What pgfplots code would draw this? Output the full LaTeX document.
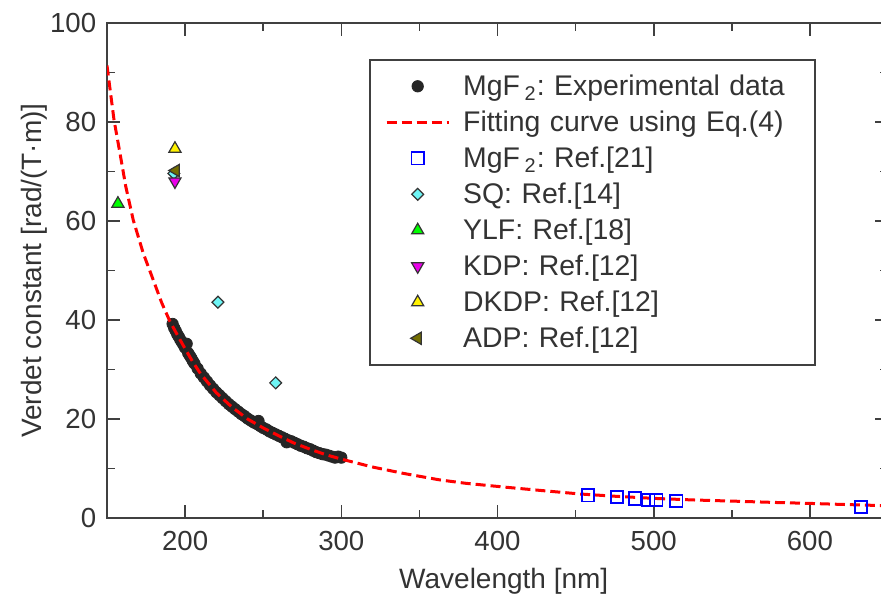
\documentclass[border=0pt]{standalone}
\usepackage{fontspec}
\setmainfont{Liberation Sans}
\usepackage{pgfplots}
\pgfplotsset{compat=1.18}

\definecolor{txt}{HTML}{333333}
\definecolor{axcol}{HTML}{404040}
\definecolor{mk}{HTML}{262626}
\definecolor{sqcyan}{RGB}{110,245,245}
\definecolor{adpol}{RGB}{115,110,0}
\definecolor{kdpmag}{RGB}{235,0,235}

\begin{document}
\begin{tikzpicture}
% reference is cropped on the right, just past 640 nm
\useasboundingbox (-53.5pt,-41.5pt) rectangle (387pt,259pt);
\clip (-53.5pt,-41.5pt) rectangle (387pt,259pt);
\begin{axis}[
    clip marker paths=true,
    scale only axis,
    width=390.5pt, height=247.5pt,
    at={(0pt,0pt)}, anchor=south west,
    xmin=150, xmax=650,
    ymin=0, ymax=100,
    xtick={200,300,...,600},
    ytick={0,20,...,100},
    minor x tick num=1,
    minor y tick num=1,
    tick align=inside,
    major tick length=6.5pt,
    minor tick length=4pt,
    axis line style={axcol, line width=0.8pt},
    every tick/.style={axcol, line width=0.8pt},
    /pgf/number format/assume math mode=true,
    tick label style={font=\fontsize{13.8}{16}\selectfont, text=txt},
    xticklabel style={yshift=-2.9pt},
    yticklabel style={xshift=-1.9pt},
    label style={font=\fontsize{14}{16}\selectfont, text=txt},
    xlabel={Wavelength [nm]},
    ylabel={Verdet constant [rad/(T\textperiodcentered m)]},
    xlabel style={at={(axis description cs:0.508,0)}, anchor=north, yshift=-21.4pt},
    ylabel style={at={(axis description cs:-0.0676,0.5)}, anchor=south},
    legend cell align=left,
    legend image code/.code={\draw[mark repeat=2,mark phase=2,#1] plot coordinates {(0pt,0pt) (15.5pt,0pt) (31pt,0pt)};},
    legend style={
        at={(0.9078,0.9273)}, anchor=north east,
        draw=axcol, line width=0.8pt,
        font=\frenchspacing\fontsize{14.2}{16}\selectfont, text=txt,
        inner xsep=7.5pt, inner ysep=5.5pt,
        row sep=2.5pt, column sep=4.5pt,
        nodes={inner sep=2pt, text height=10.5pt, text depth=1pt, text width=166.5pt, align=left},
    },
]
% MgF2 experimental data
\addplot[only marks, mark=*, mark size=2.85pt, mark options={draw=mk, fill=mk, line width=0.4pt}] coordinates {
(192,39.2) (193,38.4) (194,37.8) (195,37.1) (196,36.6) (197,36.0) (198,35.5)
(199,35.0) (200,34.4) (201,35.2) (202,33.3) (203,32.8) (204,32.3) (205,31.7)
(206,31.2) (208,30.2) (210,29.2) (212,28.4) (214,27.6) (216,26.8) (218,26.1)
(220,25.4) (222,24.8) (224,24.2) (226,23.6) (228,23.0) (230,22.5) (232,22.0)
(234,21.5) (236,21.0) (238,20.6) (240,20.1) (242,19.7) (244,19.3) (246,19.0)
(247,19.6) (248,18.6) (250,18.2) (252,17.9) (254,17.5) (256,17.2) (258,16.9)
(260,16.6) (262,16.3) (264,16.0) (265,15.3) (266,15.7) (268,15.5) (270,15.2)
(272,14.9) (274,14.6) (276,14.4) (278,14.1) (280,13.9) (282,13.6) (284,13.3)
(286,13.1) (288,12.9) (290,12.8) (292,12.6) (294,12.4) (296,12.2) (298,12.4)
(300,12.2)
};
\addlegendentry{MgF\,\textsubscript{2}: Experimental data}
% fitting curve, drawn above the black markers
\addplot[red, line width=1.5pt, dash pattern=on 5pt off 2.5pt, mark=none] coordinates {
(150,91.4) (154.5,80.4) (158.3,73.7) (162,67.0) (166.8,60.2) (173.2,53.5)
(179.6,48.1) (185,43.5) (190.3,39.7) (195,37.0) (200,34.2) (205,31.5)
(210,29.1) (220,25.3) (230,22.4) (240,20.0) (250,18.2) (260,16.6)
(270,15.1) (280,13.9) (290,12.8) (300,11.9) (320,10.3) (340,9.0)
(363,7.7) (380,7.0) (406,6.2) (430,5.5) (453,4.85) (475,4.4)
(500,3.97) (525,3.65) (555,3.37) (580,3.12) (598,2.97) (620,2.75)
(640.6,2.56) (650,2.48)
};
\addlegendentry{Fitting curve using Eq.(4)}
% MgF2 Ref.[21]
\addplot[only marks, mark=square, mark size=3.1pt, mark options={draw=blue, line width=0.9pt}] coordinates {
(457.9,4.6) (476.5,4.25) (488,3.95) (496.5,3.65) (501.7,3.6) (514.5,3.4) (632.8,2.2)
};
\addlegendentry{MgF\,\textsubscript{2}: Ref.[21]}
% SQ Ref.[14]
\addplot[only marks, mark=square*, mark size=2.1pt, mark options={rotate=45, draw=txt, fill=sqcyan, line width=0.6pt}] coordinates {
(192.8,69.6) (221,43.6) (258,27.3)
};
\addlegendentry{SQ: Ref.[14]}
% YLF Ref.[18]
\addplot[only marks, mark=triangle*, mark size=3.5pt, mark options={draw=txt, fill=green, line width=0.6pt}] coordinates {
(157,63.5)
};
\addlegendentry{YLF: Ref.[18]}
% KDP Ref.[12]
\addplot[only marks, mark=triangle*, mark size=3.5pt, mark options={rotate=180, draw=txt, fill=kdpmag, line width=0.6pt}] coordinates {
(193.5,68.0)
};
\addlegendentry{KDP: Ref.[12]}
% DKDP Ref.[12]
\addplot[only marks, mark=triangle*, mark size=3.5pt, mark options={draw=txt, fill=yellow, line width=0.6pt}] coordinates {
(193.5,74.6)
};
\addlegendentry{DKDP: Ref.[12]}
% ADP Ref.[12]
\addplot[only marks, mark=triangle*, mark size=3.5pt, mark options={rotate=90, draw=txt, fill=adpol, line width=0.6pt}] coordinates {
(194,70.2)
};
\addlegendentry{ADP: Ref.[12]}
\end{axis}
\end{tikzpicture}
\end{document}
